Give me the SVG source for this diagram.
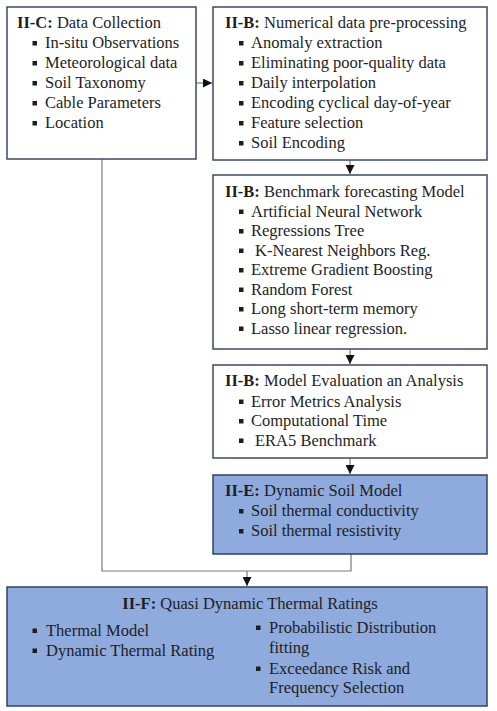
<svg xmlns="http://www.w3.org/2000/svg" width="497" height="711" viewBox="0 0 497 711">
<style>
text{font-family:"Liberation Serif","Times New Roman",serif;font-size:16.5px;fill:#1e1e1e}
.b{font-weight:bold}
.box{fill:#ffffff;stroke:#3b4a66;stroke-width:1.5}
.blue{fill:#8faadc;stroke:#2f4266;stroke-width:1.5}
.bul{fill:#1e1e1e}
.con{fill:none;stroke:#7a7a7a;stroke-width:1.2}
</style>
<defs>
<marker id="ah" viewBox="0 0 10 10" refX="10" refY="5" markerWidth="9" markerHeight="9" markerUnits="userSpaceOnUse" orient="auto">
<path d="M0,0 L10,5 L0,10 z" fill="#111"/>
</marker>
<rect id="sq" width="4.5" height="4.5"/>
</defs>
<rect width="497" height="711" fill="#fff"/>

<g id="connectors">
<line class="con" x1="196" y1="83" x2="212" y2="83" marker-end="url(#ah)"/>
<line class="con" x1="350" y1="160" x2="350" y2="174" marker-end="url(#ah)"/>
<line class="con" x1="350" y1="349" x2="350" y2="364" marker-end="url(#ah)"/>
<line class="con" x1="350" y1="458" x2="350" y2="474" marker-end="url(#ah)"/>
<polyline class="con" points="102,159 102,571 351,571 351,554"/>
<line class="con" x1="247" y1="571" x2="247" y2="586" marker-end="url(#ah)"/>
</g>

<g id="n1">
<rect class="box" x="7" y="7" width="189" height="152"/>
<text x="17" y="28"><tspan class="b">II-C:</tspan> Data Collection</text>
<g class="bul"><use href="#sq" x="32.5" y="41"/><use href="#sq" x="32.5" y="61"/><use href="#sq" x="32.5" y="81"/><use href="#sq" x="32.5" y="101"/><use href="#sq" x="32.5" y="121"/></g>
<text x="45" y="48">In-situ Observations</text>
<text x="45" y="68">Meteorological data</text>
<text x="45" y="88">Soil Taxonomy</text>
<text x="45" y="108">Cable Parameters</text>
<text x="45" y="128">Location</text>
</g>

<g id="n2">
<rect class="box" x="213" y="7" width="274" height="153"/>
<text x="225" y="28"><tspan class="b">II-B:</tspan> Numerical data pre-processing</text>
<g class="bul"><use href="#sq" x="239" y="41"/><use href="#sq" x="239" y="61"/><use href="#sq" x="239" y="81"/><use href="#sq" x="239" y="101"/><use href="#sq" x="239" y="121"/><use href="#sq" x="239" y="141"/></g>
<text x="251" y="48">Anomaly extraction</text>
<text x="251" y="68">Eliminating poor-quality data</text>
<text x="251" y="88">Daily interpolation</text>
<text x="251" y="108">Encoding cyclical day-of-year</text>
<text x="251" y="128">Feature selection</text>
<text x="251" y="148">Soil Encoding</text>
</g>

<g id="n3">
<rect class="box" x="213" y="175" width="274" height="174"/>
<text x="225" y="197"><tspan class="b">II-B:</tspan> Benchmark forecasting Model</text>
<g class="bul"><use href="#sq" x="239" y="209.5"/><use href="#sq" x="239" y="229"/><use href="#sq" x="239" y="248.5"/><use href="#sq" x="239" y="268"/><use href="#sq" x="239" y="287.5"/><use href="#sq" x="239" y="307"/><use href="#sq" x="239" y="326.5"/></g>
<text x="251" y="216.5">Artificial Neural Network</text>
<text x="251" y="236">Regressions Tree</text>
<text x="255" y="255.5">K-Nearest Neighbors Reg.</text>
<text x="251" y="275">Extreme Gradient Boosting</text>
<text x="251" y="294.5">Random Forest</text>
<text x="251" y="314">Long short-term memory</text>
<text x="251" y="333.5">Lasso linear regression.</text>
</g>

<g id="n4">
<rect class="box" x="213" y="365" width="274" height="93"/>
<text x="225" y="386"><tspan class="b">II-B:</tspan> Model Evaluation an Analysis</text>
<g class="bul"><use href="#sq" x="239" y="399.5"/><use href="#sq" x="239" y="419"/><use href="#sq" x="239" y="438.5"/></g>
<text x="251" y="406.5">Error Metrics Analysis</text>
<text x="251" y="426">Computational Time</text>
<text x="255" y="445.5">ERA5 Benchmark</text>
</g>

<g id="n5">
<rect class="blue" x="213" y="475" width="274" height="79"/>
<text x="225" y="496"><tspan class="b">II-E:</tspan> Dynamic Soil Model</text>
<g class="bul"><use href="#sq" x="239" y="509"/><use href="#sq" x="239" y="529"/></g>
<text x="251" y="516">Soil thermal conductivity</text>
<text x="251" y="536">Soil thermal resistivity</text>
</g>

<g id="n6">
<rect class="blue" x="7" y="587" width="480" height="119"/>
<text x="250" y="609" text-anchor="middle"><tspan class="b">II-F:</tspan> Quasi Dynamic Thermal Ratings</text>
<g class="bul"><use href="#sq" x="32.5" y="628.5"/><use href="#sq" x="32.5" y="648.5"/><use href="#sq" x="256" y="625.5"/><use href="#sq" x="256" y="666.5"/></g>
<text x="46" y="636">Thermal Model</text>
<text x="46" y="656">Dynamic Thermal Rating</text>
<text x="269" y="633">Probabilistic Distribution</text>
<text x="269" y="653">fitting</text>
<text x="269" y="674">Exceedance Risk and</text>
<text x="269" y="693">Frequency Selection</text>
</g>
</svg>
